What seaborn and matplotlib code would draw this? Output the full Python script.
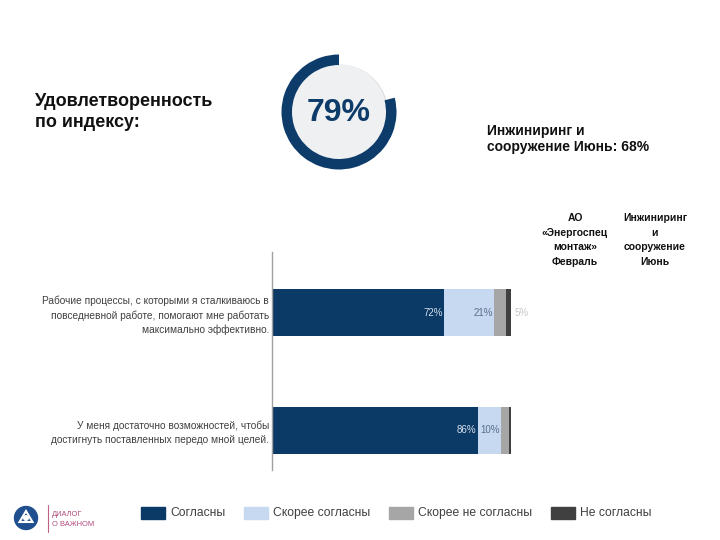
import numpy as np
import pandas as pd
import matplotlib
matplotlib.use("Agg")
import matplotlib.pyplot as plt
import seaborn as sns
from matplotlib.patches import Rectangle, Circle, Polygon

# ---------------- data ----------------
categories = [
    "Рабочие процессы, с которыми я сталкиваюсь в\nповседневной работе, помогают мне работать\nмаксимально эффективно.",
    "У меня достаточно возможностей, чтобы\nдостигнуть поставленных передо мной целей.",
]
series_names = ["Согласны", "Скорее согласны", "Скорее не согласны", "Не согласны"]
agree = [72, 86]
rather_agree = [21, 10]
rather_disagree = [5, 3]
disagree = [2, 1]
index_value = 79
title_text = "Удовлетворенность\nпо индексу:"
subtitle_text = "Инжиниринг и\nсооружение Июнь: 68%"
column_headers = ["АО\n«Энергоспец\nмонтаж»\nФевраль", "Инжиниринг\nи\nсооружение\nИюнь"]
colors = ["#0b3a66", "#c6d9f1", "#a6a6a6", "#404040"]

# ---------------- style ----------------
sns.set_theme(style="white")
plt.rcParams["font.family"] = ["Liberation Sans", "DejaVu Sans"]

W, H = 720, 540
fig = plt.figure(figsize=(7.2, 5.4), dpi=100)

def fx(px):
    return px / W

def fy(py):
    return 1 - py / H

# ---------------- stacked bar chart ----------------
df = pd.DataFrame({
    "category": categories,
    series_names[0]: agree,
    series_names[1]: rather_agree,
    series_names[2]: rather_disagree,
    series_names[3]: disagree,
})
cum = df[series_names].cumsum(axis=1)

ax = fig.add_axes([fx(272), fy(470), fx(511) - fx(272), fy(252) - fy(470)])
for name, col in reversed(list(zip(series_names, colors))):
    sns.barplot(data=pd.DataFrame({"category": categories, "v": cum[name]}),
                x="v", y="category", orient="h", color=col, saturation=1,
                width=0.40, errorbar=None, linewidth=0, ax=ax)

ax.set_xlim(0, 100)
ax.set_ylim(1.34, -0.515)
ax.set_xlabel("")
ax.set_ylabel("")
ax.set_xticks([])
for s in ["top", "right", "bottom"]:
    ax.spines[s].set_visible(False)
ax.spines["left"].set_color("#a0a0a0")
ax.spines["left"].set_linewidth(1.0)
ax.tick_params(axis="y", length=0, pad=2, labelsize=7.3, labelcolor="#404040")
for t in ax.get_yticklabels():
    t.set_linespacing(1.45)

# value labels
label_colors = ["#d5dfeb", "#5a6f8e"]
for i in range(len(categories)):
    c0 = cum[series_names[0]][i]
    c1 = cum[series_names[1]][i]
    ax.text(c0 - 0.6, i, f"{agree[i]}%", ha="right", va="center",
            fontsize=7, color=label_colors[0])
    ax.text(c1 - 0.6, i, f"{rather_agree[i]}%", ha="right", va="center",
            fontsize=7, color=label_colors[1])
    if rather_disagree[i] >= 5:
        ax.text(cum[series_names[3]][i] + 1.5, i, f"{rather_disagree[i]}%",
                ha="left", va="center", fontsize=7, color="#c8c8c8", clip_on=False)

# ---------------- donut ----------------
cx, cy, r_out = 339, 112, 57.5
size = 140
dax = fig.add_axes([fx(cx - size / 2), fy(cy + size / 2), size / W, size / H])
dax.set_xlim(-size / 2, size / 2)
dax.set_ylim(-size / 2, size / 2)
dax.set_aspect("equal")
dax.axis("off")
dax.add_patch(Circle((0.8, -0.8), 47.5, color="#d8dadd", zorder=1))
dax.add_patch(Circle((0, 0), 47, color="#eff0f2", zorder=2))
wedges, _ = dax.pie([index_value, 100 - index_value], radius=r_out, startangle=90,
                    counterclock=True, colors=["#0d3c6b", "none"],
                    wedgeprops=dict(width=10.5, linewidth=0), center=(0, 0),
                    frame=False)
for w in wedges:
    w.set_zorder(3)
dax.set_xlim(-size / 2, size / 2)
dax.set_ylim(-size / 2, size / 2)
dax.text(0, -1, f"{index_value}%", ha="center", va="center", fontsize=23,
         fontweight="bold", color="#0d3c6b", zorder=4)

# ---------------- texts ----------------
fig.text(fx(35), fy(112), title_text, ha="left", va="center", fontsize=13,
         fontweight="bold", color="#111111", linespacing=1.25)
fig.text(fx(487), fy(139), subtitle_text, ha="left", va="center", fontsize=10,
         fontweight="bold", color="#111111", linespacing=1.2)
for xc, hdr in zip([575, 655], column_headers):
    fig.text(fx(xc), fy(240), hdr, ha="center", va="center", fontsize=7.5,
             fontweight="bold", color="#111111", linespacing=1.55)

# ---------------- legend ----------------
leg_x = [141, 244, 389, 551]
for x0, name, col in zip(leg_x, series_names, colors):
    fig.patches.append(Rectangle((fx(x0), fy(519)), 24 / W, 12 / H, color=col,
                                 transform=fig.transFigure, figure=fig))
    fig.text(fx(x0 + 29), fy(513), name, ha="left", va="center", fontsize=8.7,
             color="#404040")

# ---------------- logo ----------------
lax = fig.add_axes([fx(12), fy(532), 28 / W, 28 / H])
lax.set_xlim(-14, 14)
lax.set_ylim(-14, 14)
lax.set_aspect("equal")
lax.axis("off")
lax.add_patch(Circle((0, 0), 11.5, color="#1f4f8f"))
lax.add_patch(Polygon([[0, 7], [-6.5, -4], [6.5, -4]], closed=True, fill=False,
                      edgecolor="white", linewidth=1.5))
lax.add_patch(Circle((0, 0), 2.3, color="white"))
fig.add_artist(plt.Line2D([fx(48), fx(48)], [fy(505), fy(532)], color="#c0608a",
                          linewidth=0.8, transform=fig.transFigure))
fig.text(fx(52), fy(514), "ДИАЛОГ", ha="left", va="center", fontsize=5.4,
         color="#b04a7c")
fig.text(fx(52), fy(524), "О ВАЖНОМ", ha="left", va="center", fontsize=5.4,
         color="#b04a7c")

fig.savefig("out.png", dpi=100)
